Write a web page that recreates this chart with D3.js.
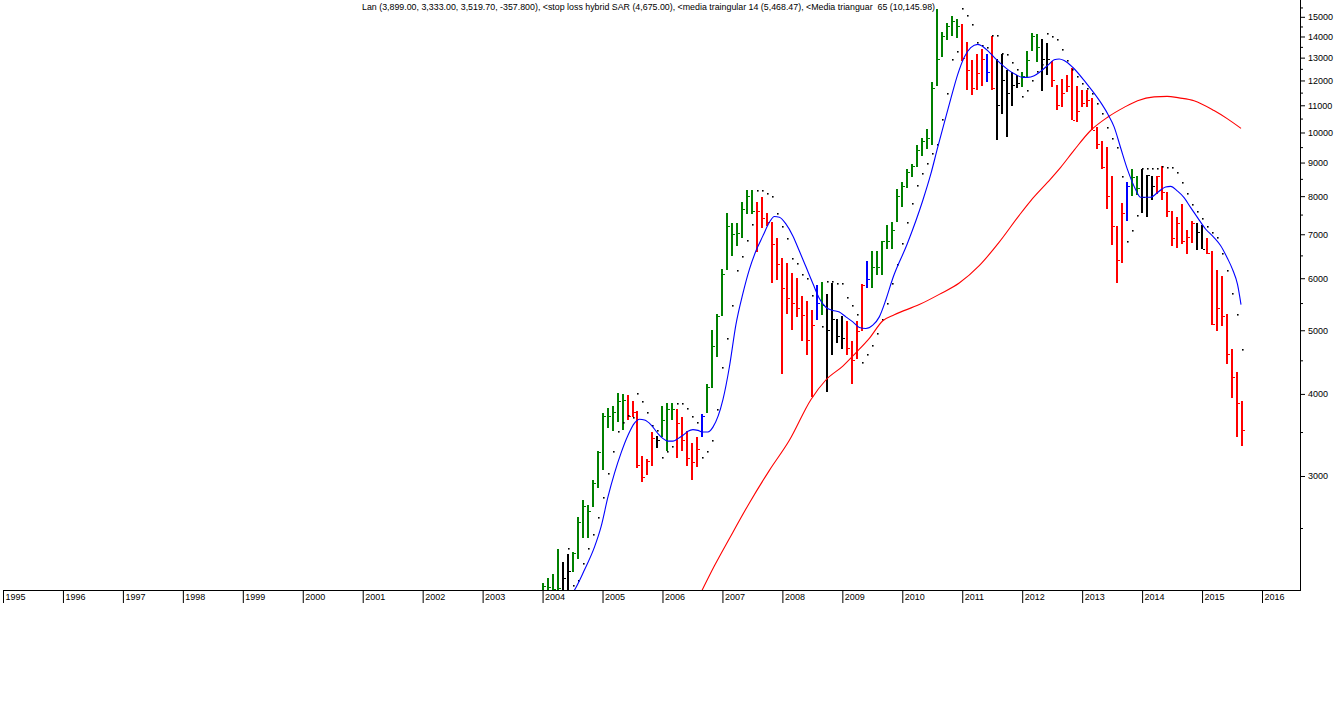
<!DOCTYPE html>
<html><head><meta charset="utf-8">
<script src="https://cdn.jsdelivr.net/npm/d3@7"></script>
<style>body{margin:0;background:#fff;} svg{display:block;}</style>
</head><body><svg id="c" width="1336" height="708"></svg>
<script>
// ---------- data ----------
const firstYear = 2004; // first monthly bar = Jan 2004
const highs = [2060,2100,2130,2320,2220,2285,2300,2600,2760,2710,2960,3280,3740,3810,3830,4010,4000,3990,3900,3770,
3220,3180,3500,3450,3840,3870,3880,3790,3690,3510,3370,3440,3730,4140,5000,5300,6190,7530,7270,7290,
7850,8170,8170,7840,7980,7550,7300,6920,6450,6340,6110,6000,5640,5540,5370,5850,5930,5680,5910,5200,
5260,5160,4810,5170,5890,6380,6590,6590,6840,7240,7300,8200,8420,8800,8950,9580,9810,10140,11950,15400,
14230,14700,15040,14860,14620,13750,12880,13150,13420,13150,14030,12960,13150,12450,12340,12250,12380,13310,14150,14110,
13900,13670,12850,11830,12060,12250,12530,11790,11600,11600,11300,10180,9720,9510,8590,7200,7820,8410,8810,8590,
8800,8620,8590,8590,8880,8110,7590,7430,7780,7100,7340,7270,7220,6920,6600,6170,6040,5290,4680,4320,3899];
const lows = [1950,1960,1980,2010,1990,1980,2140,2240,2415,2410,2695,2880,3060,3550,3510,3630,3530,3650,3690,3080,
2940,3010,3110,3310,3440,3270,3650,3200,3280,3110,2960,3100,3440,3740,4090,4560,5260,6170,6490,6720,
6920,7510,7520,6570,7150,7200,5910,5970,4290,5300,5000,5230,4820,4580,3960,5180,5270,4020,4590,4780,
4680,4580,4140,4520,4990,5800,5800,6060,6060,6650,6650,7300,7700,8230,8560,8850,9200,9430,9580,11790,
13010,13830,14020,13940,12850,11600,11400,11600,11790,11950,11600,9750,10660,9840,10980,11680,11720,12120,13310,12790,
11580,12250,11720,10820,10920,11540,10430,10370,10950,10920,10080,9430,8800,7650,6740,5900,6340,7330,8010,8030,
7530,7430,7880,8060,7880,7430,6720,6670,6770,6530,6800,6630,6640,6540,5090,4990,5070,4450,3950,3440,3333];
const closes = [2040,2030,2020,2025,2100,2150,2290,2550,2700,2650,2925,3260,3700,3700,3750,3900,3920,3700,3750,3120,
2990,3160,3430,3400,3650,3800,3800,3610,3400,3200,3150,3300,3700,4100,4730,5250,6100,7200,7000,7020,
7650,8000,7600,7600,7400,7300,6770,6300,5800,5600,5500,5400,5270,4830,5100,5500,5460,5000,5200,4900,
4870,4700,4510,4990,5850,5980,6240,6240,6830,6830,7100,8000,8300,8700,8900,9400,9700,9810,11700,12960,
14000,14500,14800,14500,13000,12470,11700,12300,12920,12370,11700,11000,12000,11500,11800,11890,12200,12880,14000,13500,
12960,12960,12000,11000,11500,11750,10450,10800,11100,11200,10100,9610,8860,8000,7200,6400,7530,8300,8550,8230,
7970,8620,8300,8590,8130,7600,6900,7280,6840,6930,7270,7050,6640,6560,5110,5400,5250,4600,4240,3870,3519.7];
// g = green, r = red, k = black, b = blue (runs in month order)
const barColors = ["gggg","kk","ggggggggggg","rrrrrr","k","ggg","rrrrr","b","gggggggggg","rrrrrrrrrrrr",
  "b","g","kkkk","rrrr","b","gggggggggggggggggg","rrrrr","b","r","kkkkk","gggg","kk",
  "rrrrrrrrrrrrrrr","b","gg","kkk","rrrrrrrr","kk","rrrrrrrr"].join("").split("");
const sar = [null,null,null,null,null,2330,2050,2080,2210,2330,2450,2600,2790,3030,3270,3510,3620,3710,3690,4010,
3900,3760,3590,3530,3210,3270,3330,3880,3870,3810,3700,3620,3210,3280,3400,3800,4390,4860,5460,6170,
6490,6850,7250,8170,8170,8100,8010,7550,7200,6920,6440,6340,6100,6000,5650,null,5070,5950,5950,5900,
5900,5620,5460,5300,4480,4600,4750,4950,5200,5500,5900,6300,6800,7300,7800,8330,8690,9000,9300,9600,
10500,11500,12960,13300,15450,15120,14650,13750,13600,13500,14080,14080,13220,13150,12800,12500,11380,11600,12000,12400,
12700,14150,14000,13900,13380,12900,12480,12200,11900,11700,11500,11100,10700,10200,9800,9520,8590,6830,7110,7490,
8830,8830,8830,8830,8900,8860,8860,8700,8400,8100,7770,7600,7400,7200,7050,6940,6560,6170,5700,5290,4675];
const ma14Month = [5,6,8.4,10.4,11.7,13.1,14.4,15.7,17.1,18.4,19.4,20.4,21.7,23.1,24.1,25.1,26.1,27.1,28.1,29.1,30.1,31.1,32.1,33.1,34.1,36.1,37.4,38.7,40.1,41.4,42.7,44.1,45.4,46.4,47.4,48.7,50.1,51.4,52.7,54.1,55.4,56.7,58.1,59.4,60.7,62.1,63.4,64.7,66.1,67.4,68.7,70.1,73,76.1,77.7,79.1,80.4,81.7,83.1,84.4,85.7,87.1,88.1,89.4,90.7,92.1,93.4,94.7,96.1,97.1,98.4,99.7,101.1,102.4,103.4,104.4,106.1,108.7,111.4,113.1,114.4,115.7,117.1,118.7,119.7,121.7,123.4,124.7,125.7,127.1,128.4,129.7,131.1,132.7,134.4,135.7,137.1,138.1,139.1,139.8];
const ma14Value = [1950,1990,2160,2340,2510,2790,3030,3250,3460,3610,3660,3650,3590,3480,3420,3390,3390,3420,3460,3510,3530,3520,3500,3500,3560,3920,4400,5100,5690,6190,6600,6960,7300,7450,7430,7260,6960,6600,6250,5890,5590,5420,5360,5330,5240,5150,5050,5030,5090,5240,5560,6000,6770,7880,8640,9500,10340,11250,12260,13020,13460,13620,13520,13250,12940,12650,12420,12250,12130,12130,12200,12390,12650,12900,12940,12870,12570,11920,11200,10680,10200,9480,8770,8190,7970,7970,8140,8260,8280,8140,7960,7690,7420,7130,6920,6730,6430,6190,5870,5468.47];
const ma65Month = [31.5,34.4,37.4,41.4,45.4,49.4,53.7,56.7,60.1,62.7,65.4,68.1,70.4,75.4,79.4,83.4,87.4,91.4,95.4,97.7,101.1,103.7,106.4,109.7,113.1,116.4,119.1,122.4,125,127.4,130.4,134.4,137.1,139.8];
const ma65Value = [1980,2190,2410,2730,3060,3400,3920,4200,4410,4620,4860,5170,5280,5470,5670,5900,6270,6810,7480,7870,8400,8850,9400,10070,10550,10920,11180,11330,11350,11290,11180,10800,10490,10145.98];
const yearTicks = d3.range(1995, 2017);
const priceTicks = [3000,4000,5000,6000,7000,8000,9000,10000,11000,12000,13000,14000,15000];
const minorTicks = [2500,3500,4500,5500,6500,7500,8500,9500,10500,11500,12500,13500,14500,15500];
const lastChange = -357.8;

// ---------- scales ----------
const svg = d3.select("#c");
const x = d3.scaleLinear().domain([1995, 2016]).range([3, 1262]);
const y = d3.scaleLog().domain([3000, 15000]).range([476, 16.8]);
const plotL = 3, plotR = 1300, plotT = 0, plotB = 590;
const colorMap = {g:"#008000", r:"#ff0000", k:"#000000", b:"#0000ff"};
const tOf = m => firstYear + m / 12;

svg.append("defs").append("clipPath").attr("id","clip")
  .append("rect").attr("x",plotL).attr("y",plotT).attr("width",plotR-plotL).attr("height",plotB-plotT);
const plot = svg.append("g").attr("clip-path","url(#clip)");

// bars
const bars = highs.map((h,i)=>({i, h, l:lows[i], c:closes[i], col:barColors[i]}));
const gb = plot.append("g");
gb.selectAll("rect.bar").data(bars).join("rect").attr("class","bar")
  .attr("x", d => Math.round(x(tOf(d.i))) - 1)
  .attr("y", d => Math.round(y(d.h)))
  .attr("width", 2)
  .attr("height", d => Math.max(1, Math.round(y(d.l)) - Math.round(y(d.h))))
  .attr("fill", d => colorMap[d.col]);
gb.selectAll("rect.cl").data(bars).join("rect").attr("class","cl")
  .attr("x", d => Math.round(x(tOf(d.i))) + 1)
  .attr("y", d => Math.round(y(d.c)))
  .attr("width", 2).attr("height", 1)
  .attr("fill", d => colorMap[d.col]);

// SAR dots
plot.append("g").selectAll("rect").data(sar.map((v,i)=>({i,v})).filter(d=>d.v!=null)).join("rect")
  .attr("x", d => Math.round(x(tOf(d.i))))
  .attr("y", d => Math.round(y(d.v)))
  .attr("width", 1.6).attr("height", 1.6).attr("fill", "#000");

// moving averages
const line = d3.line().x(d => x(tOf(d[0]))).y(d => y(d[1])).curve(d3.curveMonotoneX);
plot.append("path").attr("d", line(ma65Month.map((m,k)=>[m, ma65Value[k]])))
  .attr("fill","none").attr("stroke","#ff0000").attr("stroke-width",1.1);
plot.append("path").attr("d", line(ma14Month.map((m,k)=>[m, ma14Value[k]])))
  .attr("fill","none").attr("stroke","#0000ff").attr("stroke-width",1.1);

// axes
const font = "'Liberation Sans', Arial, sans-serif";
const yAxis = svg.append("g").attr("transform",`translate(${plotR},0)`)
  .call(d3.axisRight(y).tickValues(priceTicks).tickSize(5).tickPadding(3).tickFormat(d3.format("d")));
yAxis.select(".domain").remove();
yAxis.selectAll("text").attr("font-family", font).attr("font-size", 9).attr("fill","#000");
const yMinor = svg.append("g").attr("transform",`translate(${plotR},0)`)
  .call(d3.axisRight(y).tickValues(minorTicks).tickSize(3).tickFormat(""));
yMinor.select(".domain").remove();
svg.append("line").attr("x1",plotR+0.5).attr("x2",plotR+0.5).attr("y1",0).attr("y2",plotB+0.5).attr("stroke","#000");

const xAxis = svg.append("g").attr("transform",`translate(0,${plotB})`)
  .call(d3.axisBottom(x).tickValues(yearTicks).tickSize(13).tickFormat(d3.format("d")));
xAxis.select(".domain").remove();
xAxis.selectAll("text").attr("font-family", font).attr("font-size", 9).attr("fill","#000")
  .attr("text-anchor","start").attr("x", 2).attr("y", 4).attr("dy","0.71em");
svg.append("line").attr("x1",plotL).attr("x2",plotR+1).attr("y1",plotB+0.5).attr("y2",plotB+0.5).attr("stroke","#000");

// title
const loc = d3.formatLocale({decimal:".", thousands:",", grouping:[3], currency:["",""], minus:"-"});
const f2 = loc.format(",.2f"), f3 = loc.format(",.3f");
const last = highs.length - 1;
const title = `Lan (${f2(highs[last])}, ${f2(lows[last])}, ${f2(closes[last])}, ${f3(lastChange)}), <stop loss hybrid SAR (${f2(sar[last])}), <media traingular 14 (${f2(ma14Value[ma14Value.length-1])}), <Media trianguar  65 (${f2(ma65Value[ma65Value.length-1])})`;
svg.append("text").attr("x",362).attr("y",10).attr("font-family",font).attr("font-size",9)
  .attr("textLength",573).attr("lengthAdjust","spacingAndGlyphs").attr("xml:space","preserve").text(title);
</script></body></html>
